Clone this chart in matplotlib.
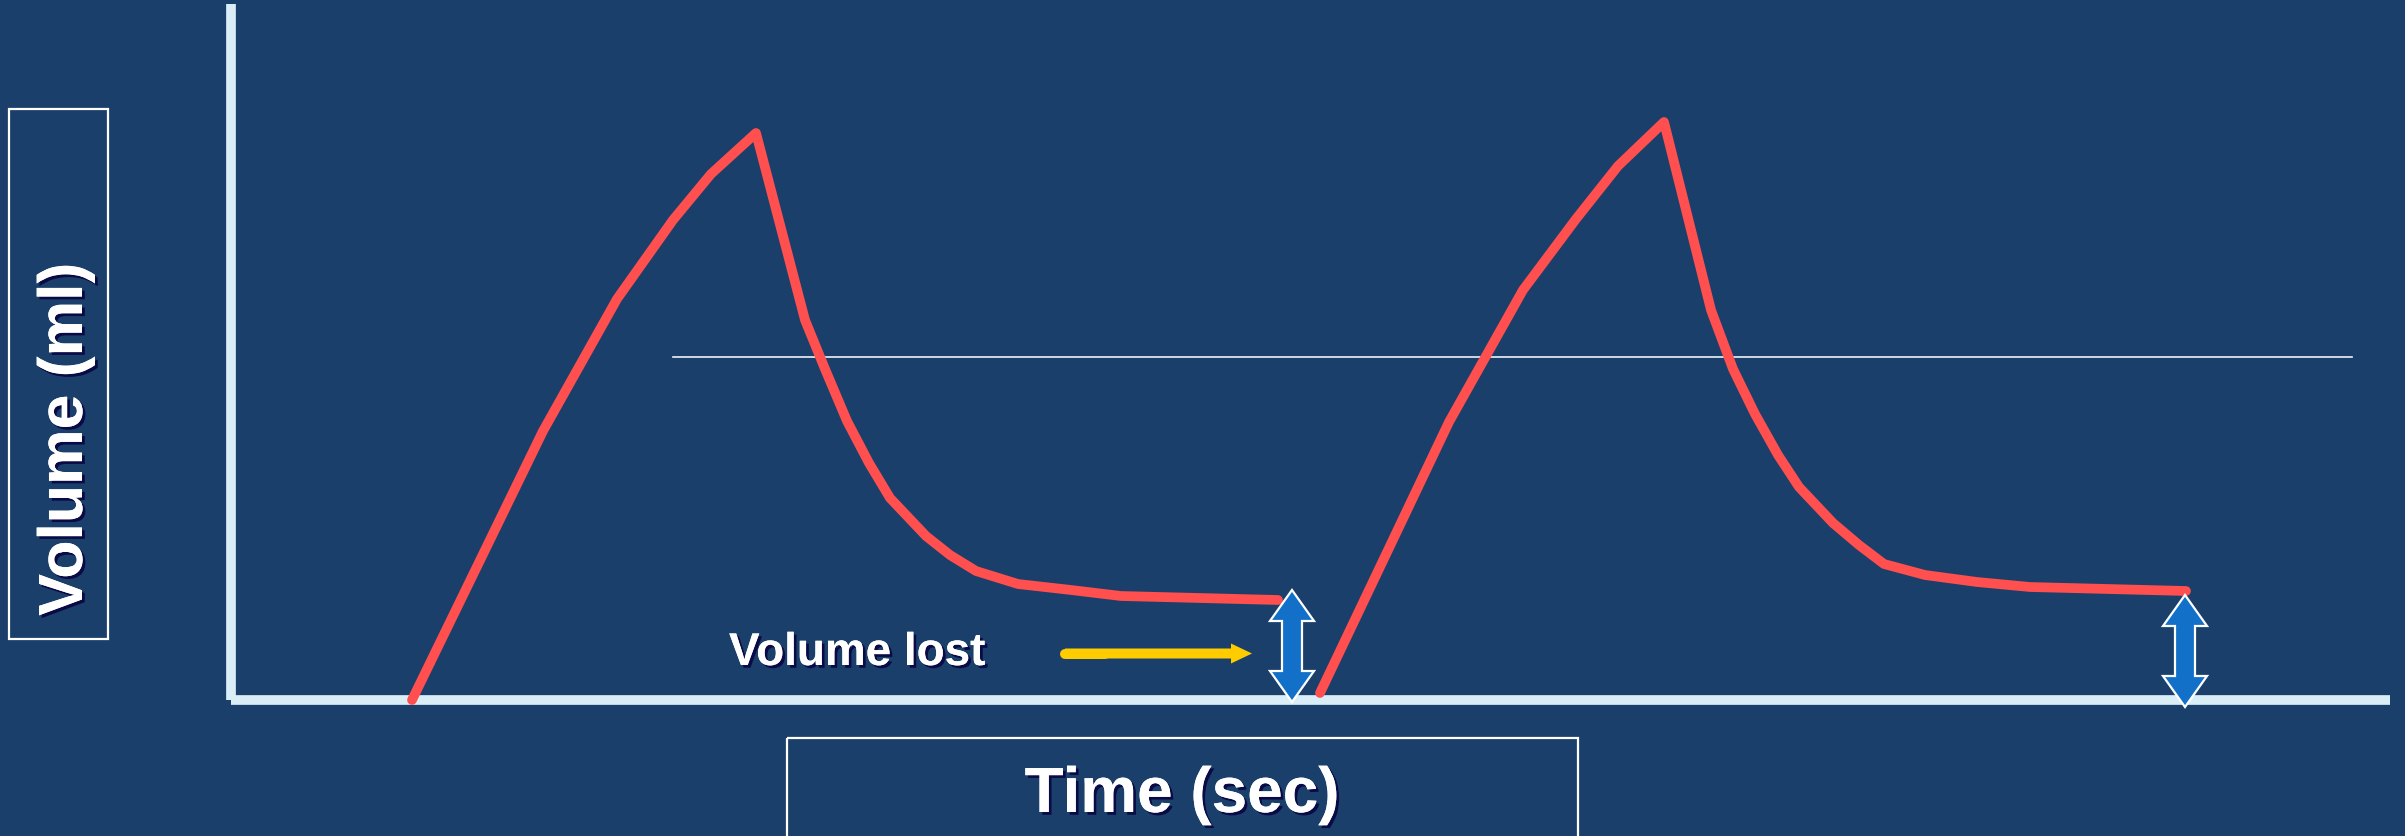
import numpy as np
import matplotlib
matplotlib.use("Agg")
import matplotlib.pyplot as plt
import matplotlib.patheffects as pe
from matplotlib.patches import Rectangle, Polygon, FancyArrow

# ---- data (time in s, volume in ml) ----
cycle1_t = [0.905, 1.56, 1.93, 2.21, 2.40, 2.625, 2.87, 2.97, 3.08, 3.19, 3.295,
            3.475, 3.595, 3.725, 3.935, 4.20, 4.45, 5.235]
cycle1_v = [0.0, 53.8, 80.2, 96.0, 105.2, 113.4, 76.0, 66.2, 55.8, 47.4, 40.4,
            32.8, 29.0, 25.8, 23.2, 22.0, 20.8, 20.0]

cycle2_t = [5.445, 6.09, 6.46, 6.725, 6.935, 7.165, 7.40, 7.51, 7.62, 7.735, 7.84,
            8.01, 8.14, 8.265, 8.47, 8.73, 8.995, 9.775]
cycle2_v = [1.4, 55.6, 82.0, 96.2, 106.8, 115.6, 78.0, 66.2, 57.2, 49.0, 42.6,
            35.4, 31.0, 27.2, 25.0, 23.6, 22.6, 21.8]

ref_level = 68.6
ref_span = [2.21, 10.605]

# double arrows marking the volume lost: (time, bottom, top)
lost_t = [5.305, 9.77]
lost_bottom = [-0.4, -1.4]
lost_top = [22.0, 21.0]

pointer_t = [4.17, 5.105]
pointer_v = 9.3

# ---- style ----
BG = "#1A3F6B"
AXIS = "#DAEEF7"
RED = "#FF4F4F"
BLUE = "#1270C8"
YELLOW = "#FFCC00"
W, H = 2405, 837
shadow = [pe.withSimplePatchShadow(offset=(2, -2), shadow_rgbFace="#0A0A46", alpha=1.0),
          pe.Normal()]

fig = plt.figure(figsize=(W / 100, H / 100), dpi=100, facecolor=BG)

# overlay in pixel units for the label boxes
bg = fig.add_axes([0, 0, 1, 1])
bg.set_xlim(0, W)
bg.set_ylim(H, 0)
bg.axis("off")
bg.set_facecolor(BG)

bg.add_patch(Rectangle((9, 110), 99, 530, fill=False, ec="white", lw=1.6))
bg.add_patch(Rectangle((787, 739), 791, 130, fill=False, ec="white", lw=1.6, clip_on=False))
bg.text(82, 440, "Volume (ml)", rotation=90, rotation_mode="anchor", ha="center",
        va="baseline", color="white", fontsize=45, family="Liberation Sans",
        fontweight="bold", path_effects=shadow)
bg.text(1182, 813, "Time (sec)", ha="center", va="baseline", color="white",
        fontsize=46, family="Liberation Sans", fontweight="bold", path_effects=shadow)

# plot area
x0, y0, x1, y1 = 231, 701, 2390, 5
ax = fig.add_axes([x0 / W, (H - y0) / H, (x1 - x0) / W, (y0 - y1) / H])
ax.patch.set_alpha(0)
ax.set_xlim(0, (x1 - x0) / 200)
ax.set_ylim(0, (y0 - y1) / 5)
ax.set_xticks([])
ax.set_yticks([])
for side in ["top", "right"]:
    ax.spines[side].set_visible(False)
for side in ["left", "bottom"]:
    ax.spines[side].set_color(AXIS)
    ax.spines[side].set_linewidth(7)
    ax.spines[side].set_capstyle("butt")
    ax.spines[side].set_zorder(1)

ax.plot(ref_span, [ref_level, ref_level], color="#EEF3F8", lw=1.2, zorder=2)

for t, v in [(cycle1_t, cycle1_v), (cycle2_t, cycle2_v)]:
    ax.plot(t, v, color=RED, lw=7, solid_capstyle="round", solid_joinstyle="round",
            clip_on=False, zorder=4)

# block double arrows
shaft_w, head_w, head_l = 0.05, 0.11, 6.2
for t, b, top in zip(lost_t, lost_bottom, lost_top):
    pts = [(t, top), (t + head_w, top - head_l), (t + shaft_w, top - head_l),
           (t + shaft_w, b + head_l), (t + head_w, b + head_l), (t, b),
           (t - head_w, b + head_l), (t - shaft_w, b + head_l), (t - shaft_w, top - head_l),
           (t - head_w, top - head_l)]
    ax.add_patch(Polygon(pts, closed=True, fc=BLUE, ec="white", lw=1.6,
                         joinstyle="miter", clip_on=False, zorder=5))

# yellow pointer
ax.plot([pointer_t[0], pointer_t[0] + 0.2], [pointer_v, pointer_v], color=YELLOW,
        lw=7.2, solid_capstyle="round", zorder=5)
ax.add_patch(FancyArrow(pointer_t[0], pointer_v, pointer_t[1] - pointer_t[0], 0,
                        width=2.0, head_width=4.0, head_length=0.105,
                        length_includes_head=True, fc=YELLOW, ec="none", zorder=5))

ax.text(2.49, 7.0, "Volume lost", ha="left", va="baseline", color="white",
        fontsize=33, family="Liberation Sans", fontweight="bold", path_effects=shadow,
        zorder=6)

fig.savefig("out.png", dpi=100, facecolor=BG)
